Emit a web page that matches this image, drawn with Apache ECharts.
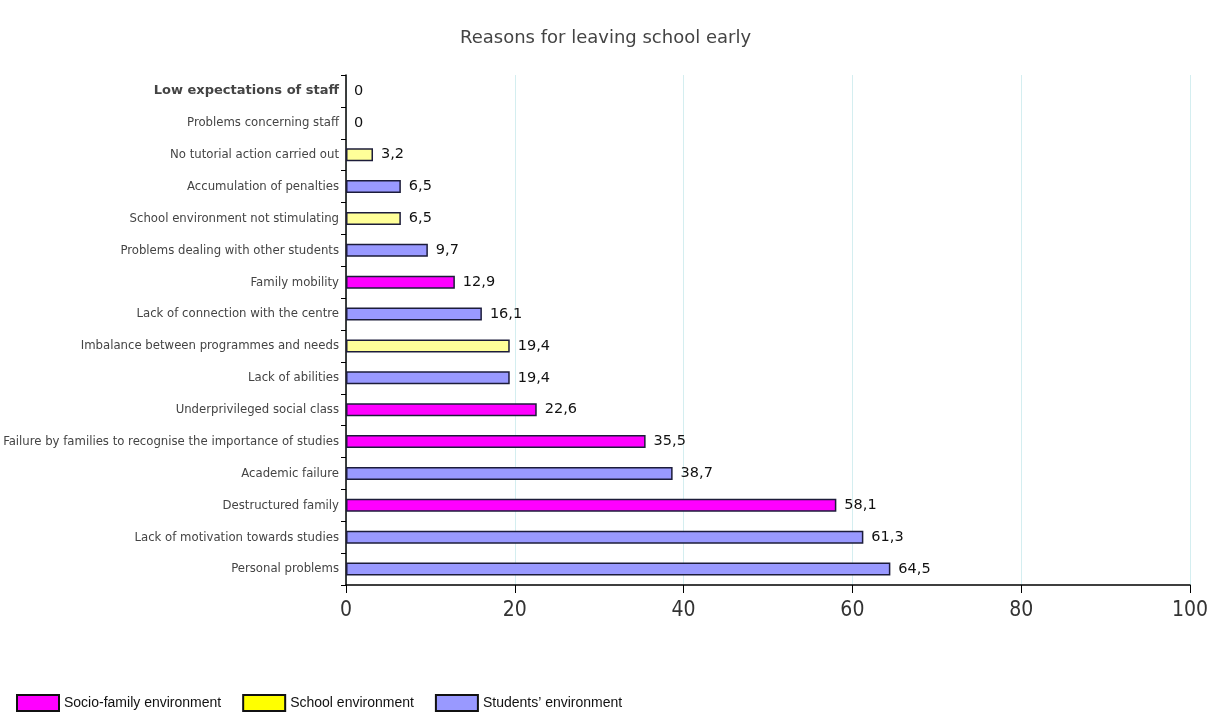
<!DOCTYPE html>
<html>
<head>
<meta charset="utf-8">
<script src="https://cdn.jsdelivr.net/npm/echarts@6/dist/echarts.min.js"></script>
<style>
  html, body { margin: 0; padding: 0; background: #fff; }
  #main { width: 1211px; height: 724px; }
</style>
</head>
<body>
<div id="main"></div>
<script>
// data, top to bottom
var categories = [
  'Low expectations of staff',
  'Problems concerning staff',
  'No tutorial action carried out',
  'Accumulation of penalties',
  'School environment not stimulating',
  'Problems dealing with other students',
  'Family mobility',
  'Lack of connection with the centre',
  'Imbalance between programmes and needs',
  'Lack of abilities',
  'Underprivileged social class',
  'Failure by families to recognise the importance of studies',
  'Academic failure',
  'Destructured family',
  'Lack of motivation towards studies',
  'Personal problems'
];
var values = [0, 0, 3.2, 6.5, 6.5, 9.7, 12.9, 16.1, 19.4, 19.4, 22.6, 35.5, 38.7, 58.1, 61.3, 64.5];
// 0 = socio-family, 1 = school, 2 = students
var groups = [1, 1, 1, 2, 1, 2, 0, 2, 1, 2, 0, 0, 2, 0, 2, 2];
var groupNames = ['Socio-family environment', 'School environment', 'Students\u2019 environment'];
var barColors = ['#ff00ff', '#ffff99', '#9999ff'];
var legendColors = ['#ff00ff', '#ffff00', '#9999ff'];
var xTicks = [0, 20, 40, 60, 80, 100];

var narrow = '"DejaVu Sans Condensed", "Liberation Sans"';

var chart = echarts.init(document.getElementById('main'));

var series = groupNames.map(function (name, g) {
  return {
    name: name,
    type: 'bar',
    stack: 'all',
    barWidth: 13,
    itemStyle: { color: barColors[g], borderColor: '#1c1c3a', borderWidth: 1.5 },
    label: {
      show: true,
      position: 'right',
      distance: 8,
      color: '#111',
      fontFamily: 'DejaVu Sans',
      fontSize: 14.5,
      formatter: function (p) { return String(p.value).replace('.', ','); }
    },
    data: values.map(function (v, i) {
      if (groups[i] !== g) return '-';
      if (v === 0) return { value: 0, itemStyle: { borderWidth: 0 } };
      return v;
    })
  };
});

var option = {
  animation: false,
  title: {
    text: 'Reasons for leaving school early',
    left: 'center',
    top: 24,
    textStyle: { fontFamily: 'DejaVu Sans', fontSize: 18, fontWeight: 'normal', color: '#444' }
  },
  legend: {
    left: 11,
    bottom: 7,
    itemWidth: 42,
    itemHeight: 16,
    itemGap: 21,
    icon: 'rect',
    textStyle: { fontFamily: 'Liberation Sans', fontSize: 14, color: '#111' },
    itemStyle: { borderColor: '#111', borderWidth: 2 },
    data: groupNames.map(function (n, g) {
      return { name: n, itemStyle: { color: legendColors[g] } };
    })
  },
  grid: { left: 346, right: 20, top: 75, bottom: 139 },
  xAxis: {
    type: 'value',
    min: 0,
    max: 100,
    interval: 20,
    axisLine: { show: true, lineStyle: { color: '#000', width: 1.5 } },
    axisTick: { show: true, length: 8, lineStyle: { color: '#000' } },
    splitLine: { show: true, lineStyle: { color: '#d4eef0', width: 1 } },
    axisLabel: {
      margin: 15,
      fontFamily: narrow,
      fontSize: 21,
      color: '#333',
      formatter: function (v) { return xTicks.indexOf(v) >= 0 ? String(v) : ''; }
    }
  },
  yAxis: {
    type: 'category',
    inverse: true,
    data: categories,
    axisLine: { show: true, lineStyle: { color: '#000', width: 1.5 } },
    axisTick: { show: true, length: 5, lineStyle: { color: '#000' } },
    axisLabel: {
      margin: 7,
      fontFamily: narrow,
      fontSize: 13,
      color: '#444',
      formatter: function (v, i) { return i === 0 ? '{b|' + v + '}' : v; },
      rich: {
        b: { fontFamily: 'DejaVu Sans', fontSize: 13, fontWeight: 'bold', color: '#444' }
      }
    }
  },
  series: series
};

chart.setOption(option);
</script>
</body>
</html>
